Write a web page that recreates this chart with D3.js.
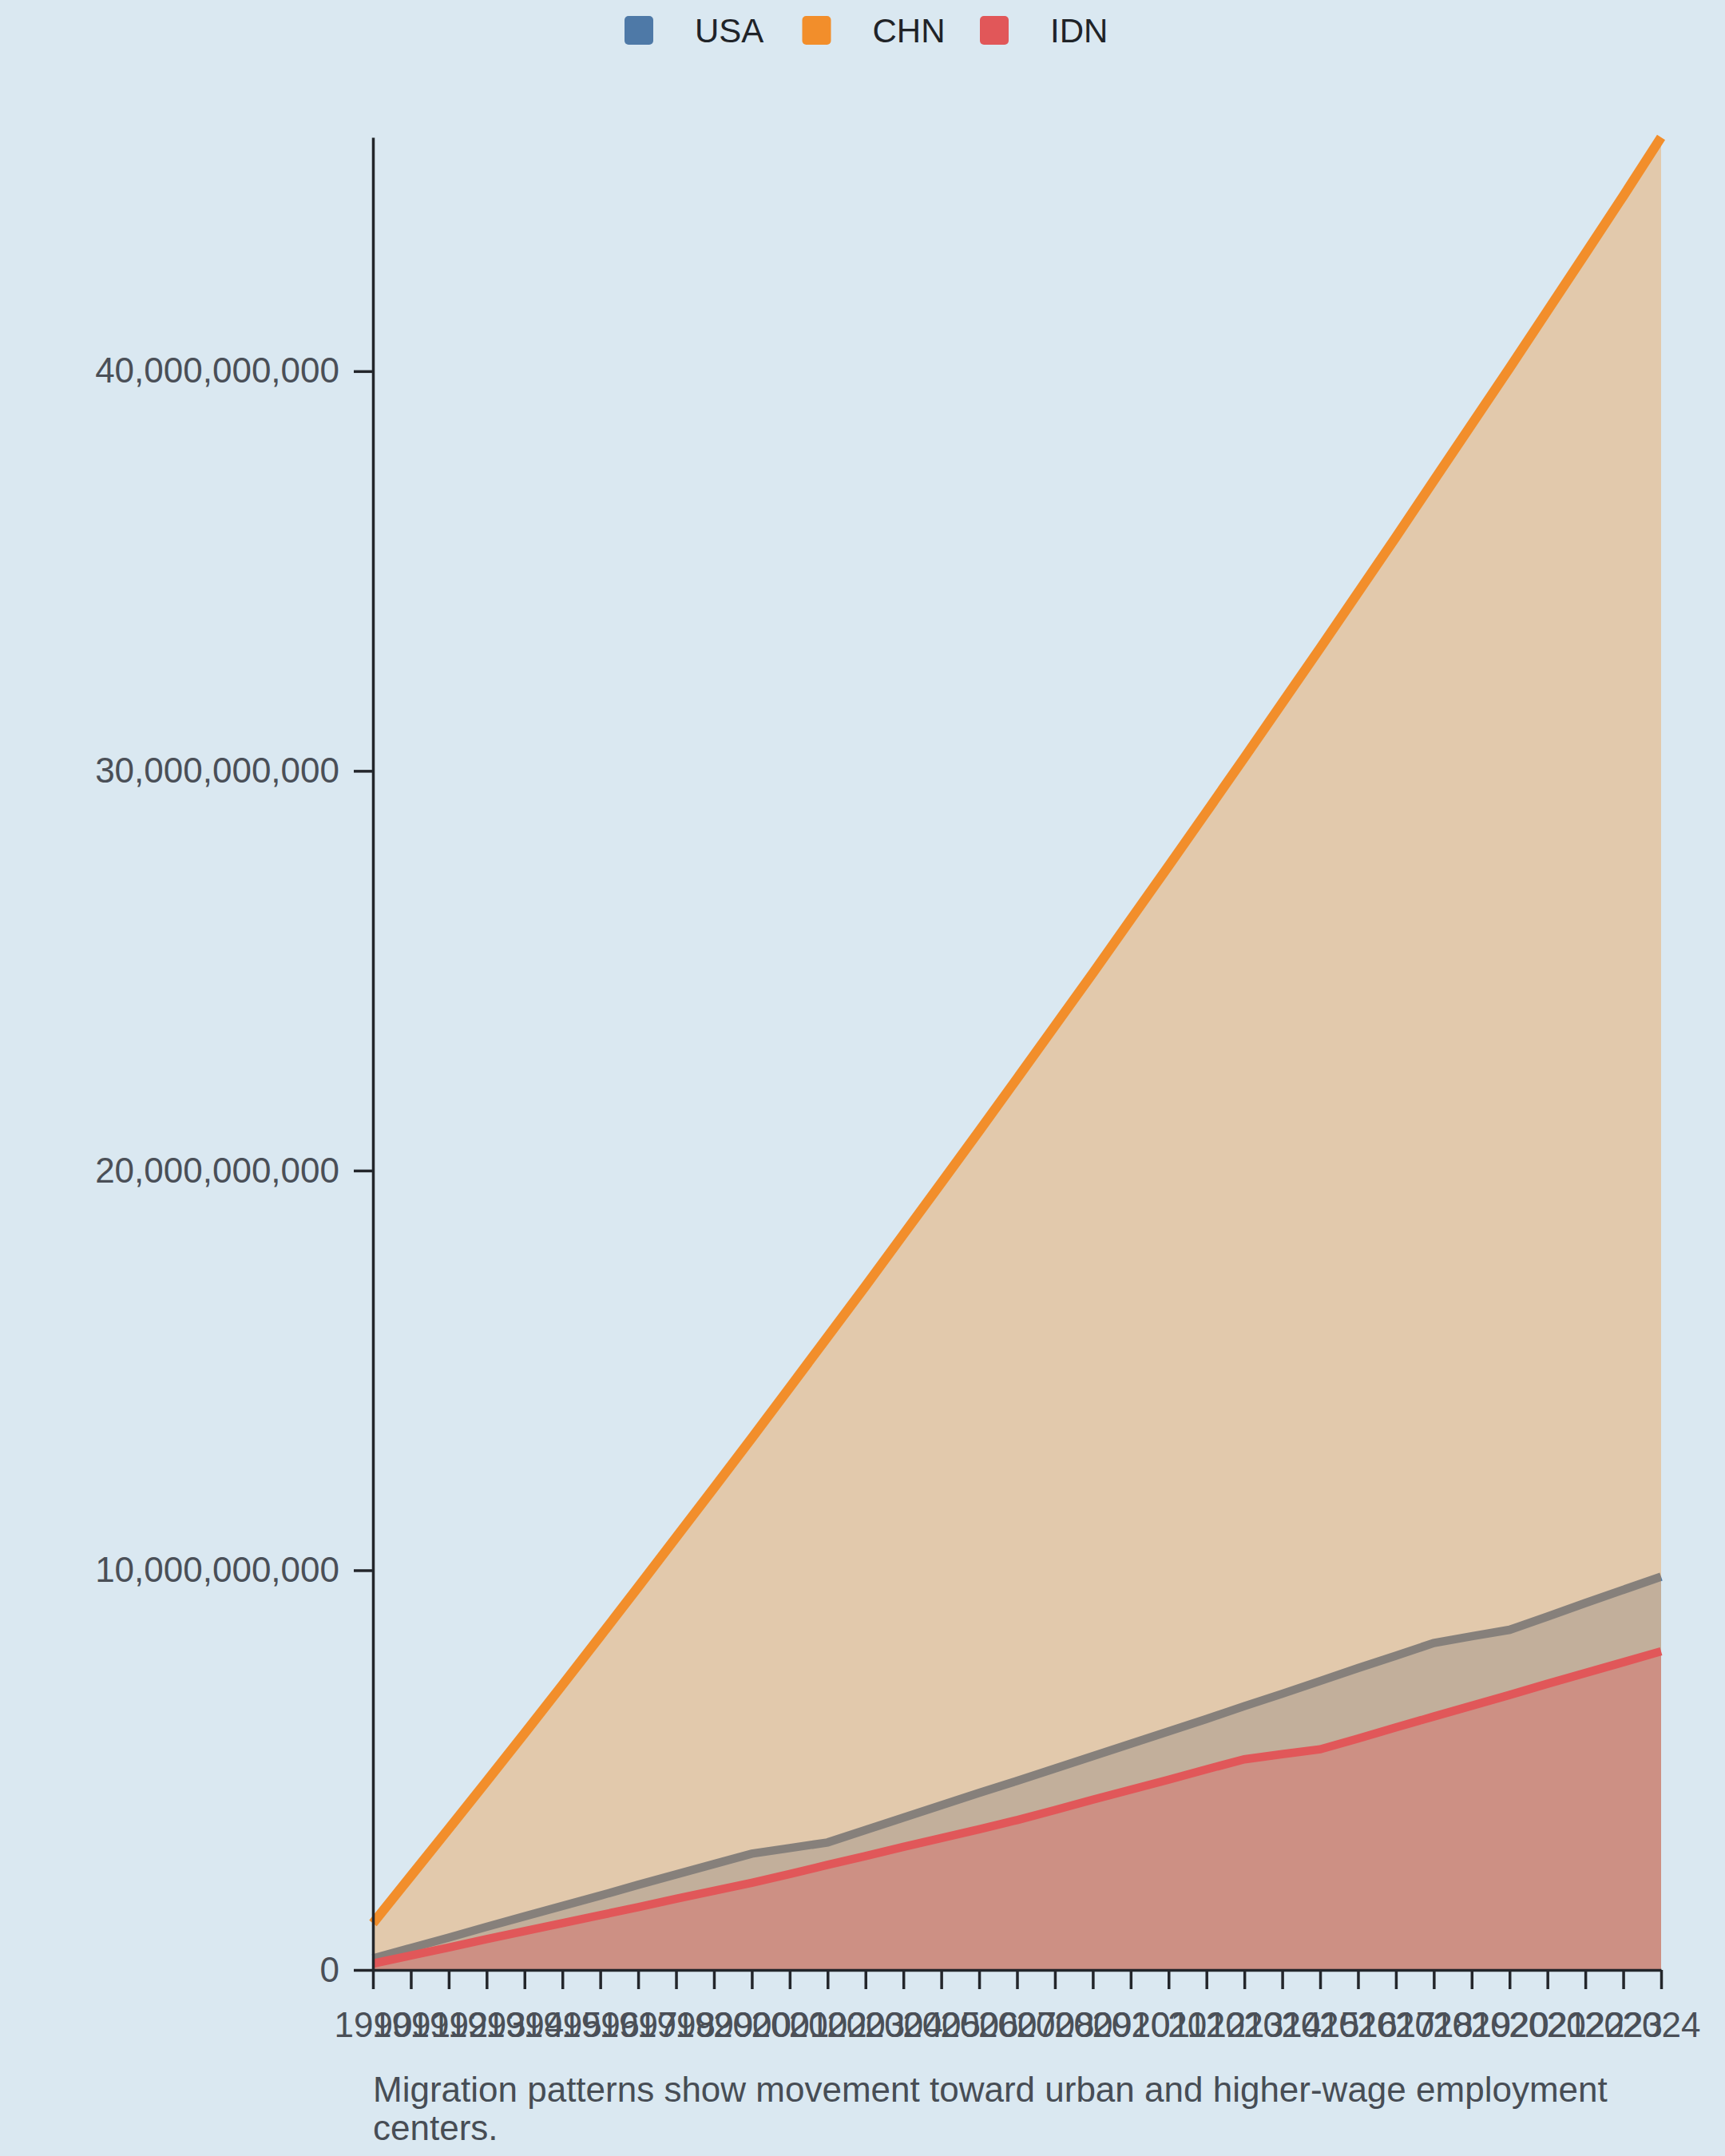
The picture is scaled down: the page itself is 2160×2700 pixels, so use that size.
<!DOCTYPE html>
<html>
<head>
<meta charset="utf-8">
<script src="https://cdn.jsdelivr.net/npm/d3@7"></script>
<style>
  body { margin: 0; background: #dae8f1; }
  svg { display: block; font-family: "Liberation Sans", Arial, sans-serif; }
</style>
</head>
<body>
<div id="chart"></div>
<script>
// data (values in billions)
var years = [1990, 1991, 1992, 1993, 1994, 1995, 1996, 1997, 1998, 1999,
             2000, 2001, 2002, 2003, 2004, 2005, 2006, 2007, 2008, 2009,
             2010, 2011, 2012, 2013, 2014, 2015, 2016, 2017, 2018, 2019,
             2020, 2021, 2022, 2023, 2024];
var usaValues = [0.29, 0.55, 0.81, 1.08, 1.34, 1.60, 1.86, 2.13, 2.39, 2.65,
                 2.91, 3.05, 3.19, 3.50, 3.81, 4.12, 4.43, 4.73, 5.04, 5.35,
                 5.66, 5.97, 6.28, 6.60, 6.91, 7.23, 7.55, 7.86, 8.18, 8.35,
                 8.51, 8.84, 9.18, 9.51, 9.84];
var chnValues = [1.17, 2.35, 3.53, 4.72, 5.92, 7.13, 8.35, 9.58, 10.82, 12.06,
                 13.31, 14.57, 15.84, 17.11, 18.40, 19.69, 20.99, 22.30, 23.62, 24.94,
                 26.28, 27.62, 28.97, 30.33, 31.70, 33.07, 34.46, 35.85, 37.26, 38.67,
                 40.08, 41.51, 42.94, 44.38, 45.85];
var idnValues = [0.16, 0.36, 0.56, 0.77, 0.97, 1.17, 1.37, 1.57, 1.78, 1.98,
                 2.18, 2.40, 2.63, 2.85, 3.08, 3.30, 3.52, 3.75, 4.00, 4.26,
                 4.51, 4.76, 5.02, 5.27, 5.40, 5.52, 5.79, 6.07, 6.34, 6.61,
                 6.88, 7.16, 7.43, 7.70, 7.97];
var seriesNames = ["USA", "CHN", "IDN"];
var seriesColors = ["#4e79a7", "#f28e2b", "#e15759"];
var caption = "Migration patterns show movement toward urban and higher-wage employment centers.";

var unit = 1e9;
var totalWidth = 2160, totalHeight = 2700;
var margin = {top: 172, right: 80, bottom: 233, left: 467},
    width = totalWidth - margin.left - margin.right,
    height = totalHeight - margin.top - margin.bottom;

var series = seriesNames.map(function(name, i) {
    return {name: name, color: seriesColors[i], values: [usaValues, chnValues, idnValues][i]};
});

var svg = d3.select("#chart")
    .append("svg")
    .attr("width", totalWidth)
    .attr("height", totalHeight);

var g = svg.append("g")
    .attr("transform", "translate(" + margin.left + "," + margin.top + ")");

// scales
var x = d3.scalePoint()
    .domain(years)
    .range([0, width]);

var y = d3.scaleLinear()
    .domain([0, d3.max(series, function(s) { return d3.max(s.values); }) * unit])
    .range([height, 0]);

var area = d3.area()
    .x(function(d, i) { return x(years[i]); })
    .y0(height)
    .y1(function(d) { return y(d * unit); });

var line = d3.line()
    .x(function(d, i) { return x(years[i]); })
    .y(function(d) { return y(d * unit); });

// areas and lines, each series drawn area first then its line
series.forEach(function(s) {
    g.append("path")
        .datum(s.values)
        .attr("class", "area")
        .attr("d", area)
        .attr("fill", s.color)
        .attr("fill-opacity", 0.35);

    g.append("path")
        .datum(s.values)
        .attr("class", "line")
        .attr("d", line)
        .attr("fill", "none")
        .attr("stroke", s.color)
        .attr("stroke-width", s.name == "CHN" ? 12 : 10.5);
});

// axes
var xAxis = g.append("g")
    .attr("class", "x-axis")
    .attr("transform", "translate(0," + height + ")")
    .call(d3.axisBottom(x).tickSize(24).tickSizeOuter(0).tickPadding(29));

var yAxis = g.append("g")
    .attr("class", "y-axis")
    .call(d3.axisLeft(y).ticks(5).tickFormat(d3.format(",")).tickSize(24).tickSizeOuter(0).tickPadding(18));

g.selectAll(".x-axis path, .x-axis line, .y-axis path, .y-axis line")
    .attr("stroke", "#23262b")
    .attr("stroke-width", 3.5);

g.selectAll(".x-axis text, .y-axis text")
    .attr("fill", "#4a4f57")
    .style("font-family", "'Liberation Sans', Arial, sans-serif")
    .style("font-size", "44px");

// legend
var legend = svg.append("g")
    .attr("transform", "translate(782,20)");

var item = legend.selectAll(".item")
    .data(series)
    .enter()
    .append("g")
    .attr("class", "item")
    .attr("transform", function(d, i) { return "translate(" + (i * 222.5) + ",0)"; });

item.append("rect")
    .attr("width", 36)
    .attr("height", 36)
    .attr("rx", 5)
    .attr("fill", function(d) { return d.color; });

item.append("text")
    .attr("x", 88)
    .attr("y", 18)
    .attr("dy", "0.35em")
    .attr("fill", "#1f2328")
    .style("font-size", "42px")
    .text(function(d) { return d.name; });

// caption, wrapped to the plot width
var captionText = svg.append("text")
    .attr("x", margin.left)
    .attr("y", 2632)
    .attr("fill", "#474d55")
    .style("font-size", "44px");

var words = caption.split(" "), lineWords = [];
var tspan = captionText.append("tspan").attr("x", margin.left).attr("dy", 0);
words.forEach(function(w) {
    lineWords.push(w);
    tspan.text(lineWords.join(" "));
    if (tspan.node().getComputedTextLength() > width && lineWords.length > 1) {
        lineWords.pop();
        tspan.text(lineWords.join(" "));
        lineWords = [w];
        tspan = captionText.append("tspan").attr("x", margin.left).attr("dy", "1.1em").text(w);
    }
});
</script>
</body>
</html>
